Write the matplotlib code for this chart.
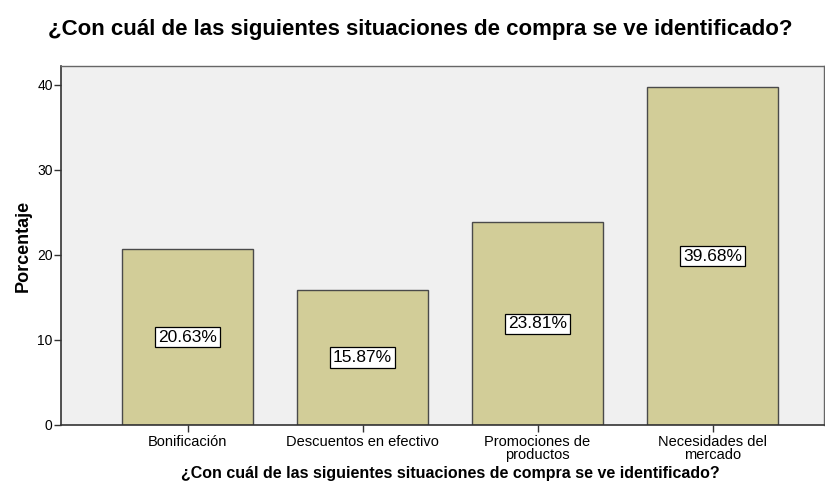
import numpy as np
import matplotlib.pyplot as plt

# data
categories = ["Bonificación", "Descuentos en efectivo",
              "Promociones de\nproductos", "Necesidades del\nmercado"]
values = [20.63, 15.87, 23.81, 39.68]
labels = ["20.63%", "15.87%", "23.81%", "39.68%"]
yticks = [0, 10, 20, 30, 40]

plt.rcParams["font.family"] = ["Liberation Sans", "DejaVu Sans"]

fig = plt.figure(figsize=(8.25, 4.83), dpi=100)
ax = fig.add_axes([61/825, 1 - 425/483, (824-61)/825, (425-66)/483])
ax.set_facecolor("#f0f0f0")

x = np.arange(len(categories))
ax.bar(x, values, width=0.75, color="#d2cd98", edgecolor="#4a4a4a", linewidth=1.0, zorder=2)

for xi, v, lab in zip(x, values, labels):
    ax.text(xi, v / 2, lab, ha="center", va="center", fontsize=12.5, zorder=3,
            bbox=dict(boxstyle="square,pad=0.15", fc="white", ec="black", lw=0.9))

ax.set_xlim(-0.723, 3.637)
ax.set_ylim(0, 42.2)
ax.set_yticks(yticks)
ax.set_xticks(x)
ax.set_xticklabels(categories, fontsize=10.5, linespacing=0.9)
ax.tick_params(axis="y", labelsize=10, length=5, width=1, color="#333333", pad=1)
ax.tick_params(axis="x", length=5, width=1, color="#333333", pad=2)

for s in ["left", "bottom"]:
    ax.spines[s].set_color("#333333")
    ax.spines[s].set_linewidth(1.2)
for s in ["top", "right"]:
    ax.spines[s].set_color("#666666")
    ax.spines[s].set_linewidth(1.0)

ax.set_ylabel("Porcentaje", fontsize=13, fontweight="bold", labelpad=4)
ax.set_xlabel("¿Con cuál de las siguientes situaciones de compra se ve identificado?",
              fontsize=11.5, fontweight="bold", labelpad=3)
ax.xaxis.set_label_coords(0.51, -0.115)

fig.text(420/825, 1 - 30/483, "¿Con cuál de las siguientes situaciones de compra se ve identificado?",
         ha="center", va="center", fontsize=16, fontweight="bold")

fig.savefig("out.png", dpi=100, facecolor="white")
